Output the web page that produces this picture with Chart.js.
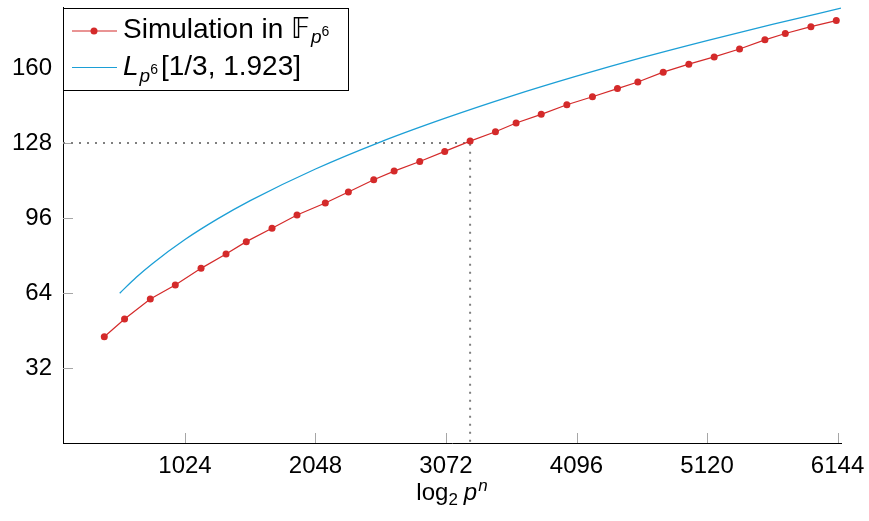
<!DOCTYPE html>
<html>
<head>
<meta charset="utf-8">
<script src="https://cdn.jsdelivr.net/npm/chart.js@4/dist/chart.umd.min.js"></script>
<style>
  html, body { margin: 0; padding: 0; background: #fff; }
  #wrap { width: 869px; height: 521px; }
</style>
</head>
<body>
<div id="wrap"><canvas id="c" width="869" height="521"></canvas></div>
<script>
// ---- data ----
const simX = [391, 550, 752, 948, 1150, 1346, 1505, 1707, 1903, 2125, 2306, 2505, 2665, 2866, 3062, 3261, 3460, 3622, 3819, 4020, 4221, 4417, 4577, 4776, 4977, 5176, 5375, 5574, 5734, 5935, 6134];
const simY = [45.3, 52.9, 61.4, 67.4, 74.5, 80.6, 85.9, 91.6, 97.3, 102.4, 107.1, 112.3, 116.0, 120.1, 124.4, 128.8, 132.8, 136.5, 140.2, 144.3, 147.7, 151.2, 154.0, 158.2, 161.6, 164.7, 168.1, 172.0, 174.7, 177.6, 180.2];
const lX = [512, 640, 768, 1024, 1280, 1536, 2048, 2560, 3072, 3584, 4096, 4608, 5120, 5632, 6171];
const lY = [63.9, 70.6, 76.5, 86.8, 95.6, 103.4, 116.9, 128.5, 138.7, 148.0, 156.5, 164.4, 171.7, 178.6, 185.5];
const guideX = [67, 3261, 3261];
const guideY = [128, 128, 0];
const xTicks = [1024, 2048, 3072, 4096, 5120, 6144];
const yTicks = [32, 64, 96, 128, 160];
const xRange = [67, 6171];
const yRange = [0, 186];

const zip = (xs, ys) => xs.map((x, i) => ({ x: x, y: ys[i] }));

const RED = '#d42a2a';
const BLUE = '#1c9fd6';
const FONT = '"Liberation Sans", Arial, sans-serif';

Chart.defaults.font.family = FONT;
Chart.defaults.color = '#000';

function drawRuns(ctx, x, runs) {
  let cx = x;
  for (const r of runs) {
    ctx.font = r.font;
    ctx.fillText(r.t, cx, r.y);
    cx += ctx.measureText(r.t).width + (r.after || 0);
  }
  return cx;
}
function runsWidth(ctx, runs) {
  let w = 0;
  for (const r of runs) { ctx.font = r.font; w += ctx.measureText(r.t).width + (r.after || 0); }
  return w;
}

const decor = {
  id: 'decor',
  beforeDatasetsDraw(chart) {
    const ctx = chart.ctx;
    const xs = chart.scales.x, ys = chart.scales.y;
    ctx.save();
    ctx.strokeStyle = '#a6a6a6';
    ctx.lineWidth = 1;
    ctx.beginPath();
    for (const v of xTicks) {
      const px = Math.round(xs.getPixelForValue(v)) + 0.5;
      ctx.moveTo(px, ys.bottom); ctx.lineTo(px, ys.bottom - 10);
    }
    for (const v of yTicks) {
      const py = Math.round(ys.getPixelForValue(v)) + 0.5;
      ctx.moveTo(xs.left, py); ctx.lineTo(xs.left + 10, py);
    }
    ctx.stroke();
    ctx.restore();
  },
  afterDraw(chart) {
    const ctx = chart.ctx;
    const area = chart.chartArea;
    ctx.save();
    // legend box
    const lx = area.left, ly = 8, lw = 285, lh = 82;
    ctx.fillStyle = '#fff';
    ctx.fillRect(lx, ly, lw, lh);
    ctx.strokeStyle = '#000';
    ctx.lineWidth = 1;
    ctx.strokeRect(lx + 0.5, ly + 0.5, lw, lh);
    // samples
    ctx.lineWidth = 1.2;
    ctx.strokeStyle = RED;
    ctx.beginPath(); ctx.moveTo(72, 31); ctx.lineTo(117, 31); ctx.stroke();
    ctx.fillStyle = RED;
    ctx.beginPath(); ctx.arc(94, 31, 3.5, 0, Math.PI * 2); ctx.fill();
    ctx.strokeStyle = BLUE;
    ctx.beginPath(); ctx.moveTo(72, 67.5); ctx.lineTo(117, 67.5); ctx.stroke();
    // texts
    ctx.fillStyle = '#000';
    ctx.textBaseline = 'alphabetic';
    ctx.textAlign = 'left';
    drawRuns(ctx, 123, [
      { t: 'Simulation in ', font: '28px ' + FONT, y: 38 },
      { t: '\u{1D53D}', font: '28px "DejaVu Sans", ' + FONT, y: 38, after: 1 },
      { t: 'p', font: 'italic 19px ' + FONT, y: 43 },
      { t: '6', font: '14px ' + FONT, y: 36 }
    ]);
    drawRuns(ctx, 123, [
      { t: 'L', font: 'italic 28px ' + FONT, y: 75, after: 1 },
      { t: 'p', font: 'italic 19px ' + FONT, y: 82 },
      { t: '6', font: '14px ' + FONT, y: 74, after: 3 },
      { t: '[1/3, 1.923]', font: '28px ' + FONT, y: 75 }
    ]);
    // x axis title
    const runs = [
      { t: 'log', font: '24px ' + FONT, y: 500 },
      { t: '2', font: '17px ' + FONT, y: 505, after: 6 },
      { t: 'p', font: 'italic 24px ' + FONT, y: 500, after: 1 },
      { t: 'n', font: 'italic 17px ' + FONT, y: 491 }
    ];
    const w = runsWidth(ctx, runs);
    drawRuns(ctx, (area.left + area.right) / 2 - w / 2, runs);
    ctx.restore();
  }
};

new Chart(document.getElementById('c'), {
  type: 'scatter',
  data: {
    datasets: [
      {
        label: 'Simulation',
        data: zip(simX, simY),
        showLine: true,
        borderColor: RED,
        backgroundColor: RED,
        borderWidth: 1.2,
        pointRadius: 3.5,
        pointBorderWidth: 0,
        pointBackgroundColor: RED,
        order: 1
      },
      {
        label: 'L',
        data: zip(lX, lY),
        showLine: true,
        borderColor: BLUE,
        borderWidth: 1.3,
        pointRadius: 0,
        cubicInterpolationMode: 'monotone',
        order: 2
      },
      {
        label: 'guide',
        data: zip(guideX, guideY),
        showLine: true,
        borderColor: '#7f7f7f',
        borderWidth: 2,
        borderDash: [2, 6],
        borderCapStyle: 'butt',
        pointRadius: 0,
        order: 3
      }
    ]
  },
  options: {
    responsive: false,
    animation: false,
    devicePixelRatio: 1,
    layout: { padding: { top: 7, right: 28, bottom: 0, left: 0 } },
    plugins: { legend: { display: false }, tooltip: { enabled: false } },
    scales: {
      x: {
        type: 'linear',
        min: xRange[0], max: xRange[1],
        grid: { display: false, drawTicks: false },
        border: { display: true, color: '#000', width: 1 },
        afterBuildTicks: s => { s.ticks = xTicks.map(v => ({ value: v })); },
        afterFit: s => { s.height = 78; s.paddingLeft = 0; s.paddingRight = 0; },
        ticks: { font: { size: 24 }, color: '#000', padding: 9, maxRotation: 0, autoSkip: false, callback: v => String(v) }
      },
      y: {
        type: 'linear',
        min: yRange[0], max: yRange[1],
        grid: { display: false, drawTicks: false },
        border: { display: true, color: '#000', width: 1 },
        afterBuildTicks: s => { s.ticks = yTicks.map(v => ({ value: v })); },
        afterFit: s => { s.width = 63; s.paddingTop = 0; s.paddingBottom = 0; },
        ticks: { font: { size: 24 }, color: '#000', padding: 11, autoSkip: false, callback: v => String(v) }
      }
    }
  },
  plugins: [decor]
});
</script>
</body>
</html>
